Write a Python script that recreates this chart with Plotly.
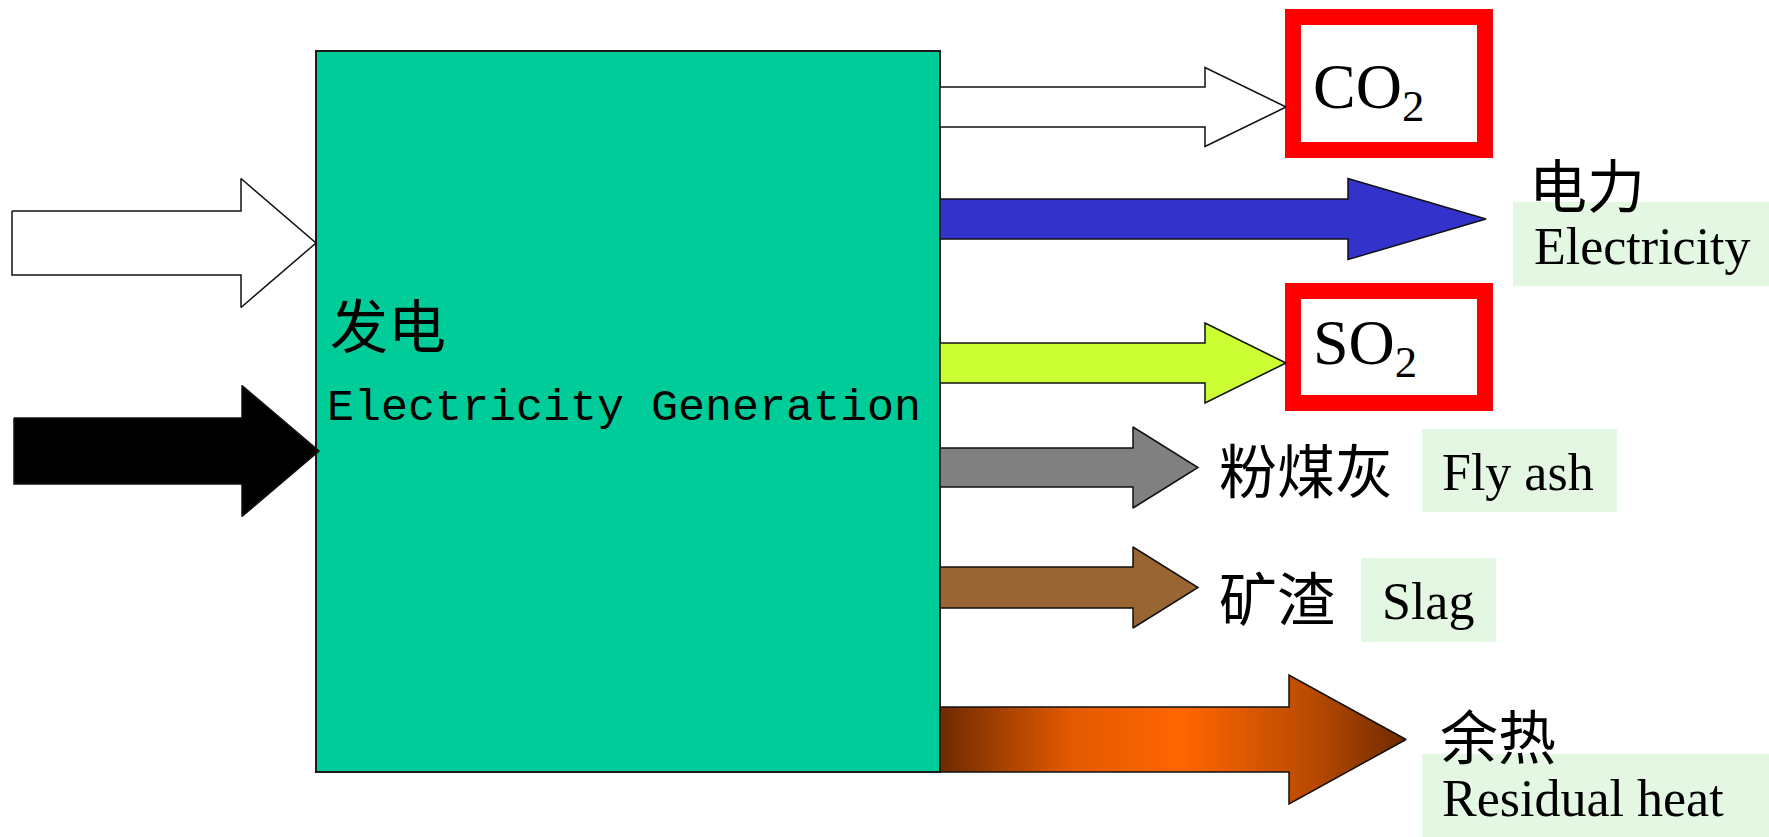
import plotly.graph_objects as go

W, H = 1769, 837

# ---- arrows: start x, head-base x, tip x, centre y, shaft half-height, head half-height
arrow_names = ["in_white", "in_black", "co2", "electricity", "so2", "flyash", "slag", "heat"]
arrow_x0 = [12, 14, 940, 940, 940, 940, 940, 940]
arrow_xh = [241, 242, 1205, 1348, 1205, 1133, 1133, 1289]
arrow_xt = [316, 319, 1286, 1486, 1286, 1198, 1198, 1406]
arrow_yc = [243, 451, 107, 219, 363, 467.5, 587.5, 739.5]
arrow_sh = [32, 33, 20, 20, 20, 19.5, 20.5, 32.5]
arrow_hh = [64.5, 65.5, 39.5, 40.5, 40, 40.5, 40.5, 64.5]
arrow_fill = ["#FFFFFF", "#000000", "#FFFFFF", "#3333CC", "#CCFF33", "#808080", "#996633", None]

# ---- main process box
box_x = [316, 940]
box_y = [51, 772]

# ---- red emission boxes (outer extents)
red_labels = ["CO<sub>2</sub>", "SO<sub>2</sub>"]
red_x = [[1285, 1493], [1285, 1493]]
red_y = [[9, 158], [283, 411]]
red_text_x = [1311, 1311]
red_text_y = [91, 347]

# ---- light green label backgrounds
bg_x = [[1513, 1769], [1422, 1617], [1361, 1496], [1422, 1769]]
bg_y = [[202, 286], [429, 512], [558, 642], [754, 837]]

# ---- Chinese labels
cn_labels = ["发电", "电力", "粉煤灰", "矿渣", "余热"]
cn_x = [328, 1527, 1217, 1217, 1438]
cn_y = [323, 183, 468, 596, 734]

# ---- English labels (serif)
en_labels = ["Electricity", "Fly ash", "Slag", "Residual heat"]
en_x = [1532, 1440, 1380, 1440]
en_y = [246, 472, 601, 798]

proc_label = "Electricity Generation"
proc_x, proc_y = 325, 408

fig = go.Figure()

# shapes: background boxes
shapes = []
shapes.append(dict(type="rect", x0=box_x[0], x1=box_x[1], y0=box_y[0], y1=box_y[1],
                   fillcolor="#00CC99", line=dict(color="#1a1a1a", width=2), layer="below"))
for (x0, x1), (y0, y1) in zip(bg_x, bg_y):
    shapes.append(dict(type="rect", x0=x0, x1=x1, y0=y0, y1=y1,
                       fillcolor="#E4F7E2", line=dict(width=0), layer="below"))
for (x0, x1), (y0, y1) in zip(red_x, red_y):
    b = 16
    shapes.append(dict(type="rect", x0=x0 + b / 2, x1=x1 - b / 2, y0=y0 + b / 2, y1=y1 - b / 2,
                       fillcolor="#FFFFFF", line=dict(color="#FF0000", width=b), layer="below"))

for name, x0, xh, xt, yc, sh, hh, fc in zip(arrow_names, arrow_x0, arrow_xh, arrow_xt,
                                             arrow_yc, arrow_sh, arrow_hh, arrow_fill):
    xs = [x0, xh, xh, xt, xh, xh, x0, x0]
    ys = [yc - sh, yc - sh, yc - hh, yc, yc + hh, yc + sh, yc + sh, yc - sh]
    kw = dict(x=xs, y=ys, mode="lines", fill="toself",
              line=dict(color="#111111", width=1.5), hoverinfo="skip", showlegend=False)
    if fc is None:
        kw["fillgradient"] = dict(type="horizontal",
                                  colorscale=[[0, "#6E2A00"], [0.28, "#E35A00"], [0.52, "#FF6600"],
                                              [0.8, "#B84A00"], [1, "#6E2A00"]])
    else:
        kw["fillcolor"] = fc
    fig.add_trace(go.Scatter(**kw))

ann = []
for t, x, y in zip(cn_labels, cn_x, cn_y):
    ann.append(dict(text=t, x=x, y=y, xanchor="left", yanchor="middle", showarrow=False,
                    font=dict(family="Noto Sans CJK SC", size=58, color="#000000")))
for t, x, y in zip(en_labels, en_x, en_y):
    ann.append(dict(text=t, x=x, y=y, xanchor="left", yanchor="middle", showarrow=False,
                    font=dict(family="Liberation Serif", size=52, color="#000000")))
for t, x, y in zip(red_labels, red_text_x, red_text_y):
    ann.append(dict(text=t, x=x, y=y, xanchor="left", yanchor="middle", showarrow=False,
                    font=dict(family="Liberation Serif", size=64, color="#000000")))
ann.append(dict(text=proc_label, x=proc_x, y=proc_y, xanchor="left", yanchor="middle", showarrow=False,
                font=dict(family="Liberation Mono", size=45, color="#000000")))

fig.update_layout(
    width=W, height=H, margin=dict(l=0, r=0, t=0, b=0),
    paper_bgcolor="#FFFFFF", plot_bgcolor="#FFFFFF",
    xaxis=dict(range=[0, W], visible=False, fixedrange=True),
    yaxis=dict(range=[H, 0], visible=False, fixedrange=True),
    shapes=shapes, annotations=ann, showlegend=False,
)

fig.write_html("out.html", config=dict(displayModeBar=False),
               post_script="document.body.style.margin='0';document.body.style.overflow='hidden';")
